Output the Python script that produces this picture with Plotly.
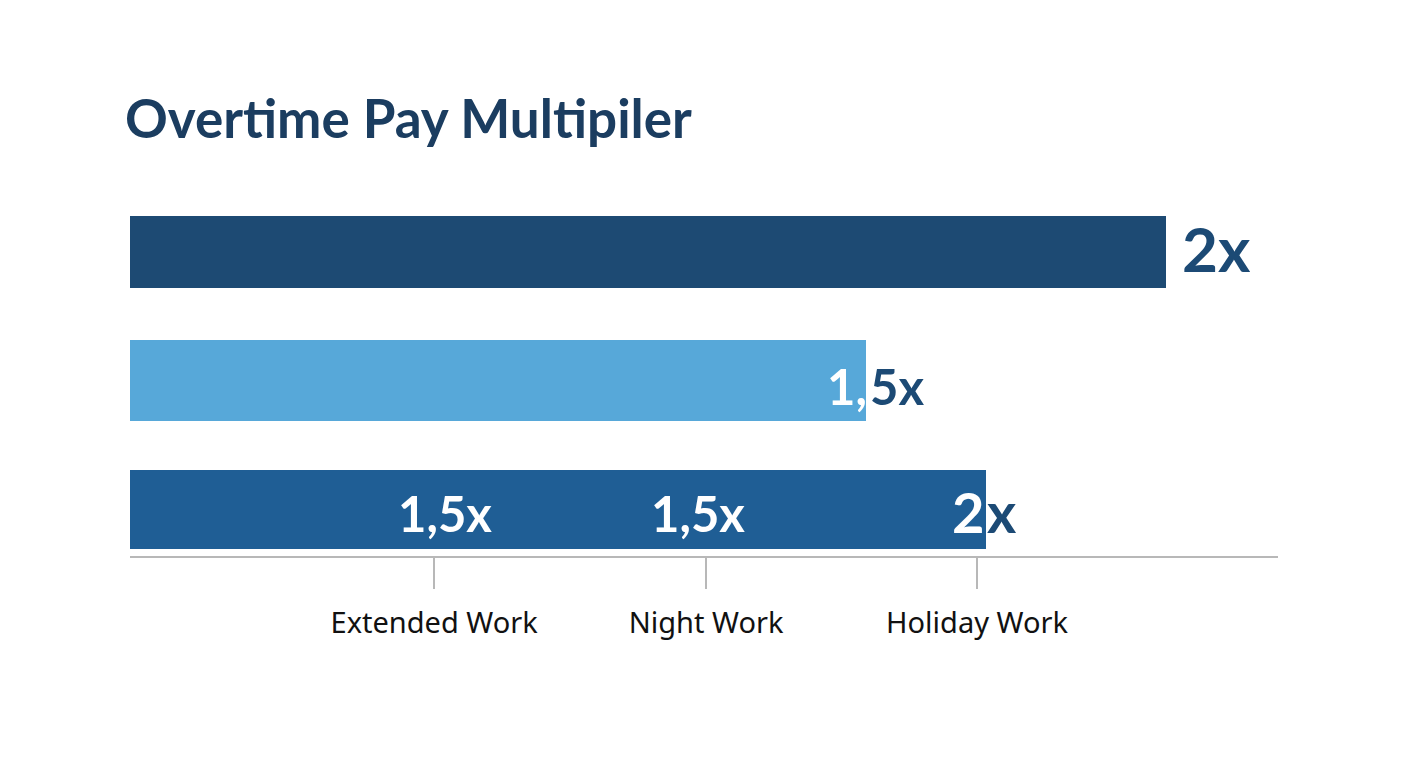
import plotly.graph_objects as go

# ---- data ----
rows = [2, 1, 0]                       # top, middle, bottom bar rows
bar_values = [2.0, 1.42, 1.653]        # bar lengths (multiplier scale)
bar_colors = ["#1d4a73", "#57a8d9", "#1f5e95"]
bar_thickness = [0.56, 0.63, 0.62]

tick_positions = [0.587, 1.112, 1.635]
tick_labels = ["Extended Work", "Night Work", "Holiday Work"]

inner_label_positions = [0.608, 1.097]   # white labels inside bottom bar
inner_label_text = ["1,5x", "1,5x"]

title_text = "Overtime Pay Multipiler"

DARK = "#1c4a75"
LABEL_FONT = "Lato"

fig = go.Figure()
fig.add_trace(go.Bar(
    x=bar_values, y=rows, orientation="h",
    width=bar_thickness,
    marker=dict(color=bar_colors, line=dict(width=0)),
    hoverinfo="skip",
))

ann = []
# top bar label, outside
ann.append(dict(x=bar_values[0], y=rows[0], text="2x", xanchor="left", yanchor="middle",
                xshift=15, yshift=4, showarrow=False, borderpad=0,
                font=dict(family=LABEL_FONT, size=62, color=DARK, weight="bold")))
# middle bar label split at bar end
ann.append(dict(x=bar_values[1], y=rows[1], text="1,", xanchor="right", yanchor="middle",
                xshift=2, yshift=-5, showarrow=False, borderpad=0,
                font=dict(family=LABEL_FONT, size=49, color="white", weight="bold")))
ann.append(dict(x=bar_values[1], y=rows[1], text="5x", xanchor="left", yanchor="middle",
                xshift=3, yshift=-5, showarrow=False, borderpad=0,
                font=dict(family=LABEL_FONT, size=49, color=DARK, weight="bold")))
# bottom bar inner labels
for xv, t in zip(inner_label_positions, inner_label_text):
    ann.append(dict(x=xv, y=rows[2], text=t, xanchor="center", yanchor="middle",
                    yshift=-4, showarrow=False, borderpad=0,
                    font=dict(family=LABEL_FONT, size=49, color="white", weight="bold")))
# bottom bar end label split
ann.append(dict(x=bar_values[2], y=rows[2], text="2", xanchor="right", yanchor="middle",
                xshift=-1, yshift=-2, showarrow=False, borderpad=0,
                font=dict(family=LABEL_FONT, size=56, color="white", weight="bold")))
ann.append(dict(x=bar_values[2], y=rows[2], text="x", xanchor="left", yanchor="middle",
                xshift=0, yshift=-2, showarrow=False, borderpad=0,
                font=dict(family=LABEL_FONT, size=56, color=DARK, weight="bold")))

fig.update_layout(
    width=1408, height=768,
    margin=dict(l=122, r=138, t=162, b=220),
    paper_bgcolor="white", plot_bgcolor="white",
    showlegend=False,
    bargap=0,
    title=dict(text=title_text, x=117/1408, xanchor="left", xref="container",
               y=1 - 111/768, yanchor="middle", yref="container",
               font=dict(family="Lato", size=53, color="#1b3d60", weight="bold")),
    annotations=ann,
)
fig.update_xaxes(range=[0, 2.216], showgrid=False, zeroline=False,
                 showline=True, linecolor="#b8b8b8", linewidth=2,
                 ticks="outside", ticklen=31, tickwidth=2, tickcolor="#b8b8b8",
                 tickvals=tick_positions, ticktext=tick_labels,
                 ticklabelstandoff=9,
                 tickfont=dict(family="Noto Sans", size=29, color="#111111"),
                 fixedrange=True)
fig.update_yaxes(range=[-0.362, 2.638], visible=False, fixedrange=True)

fig.write_html("out.html", config={"displayModeBar": False})
